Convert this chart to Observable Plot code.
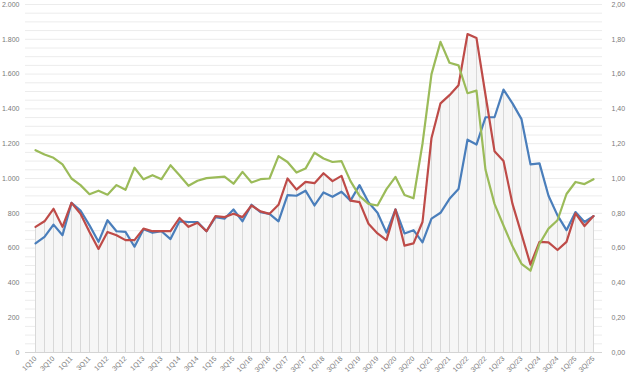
<!DOCTYPE html>
<html><head><meta charset="utf-8">
<script src="https://cdn.jsdelivr.net/npm/d3@7"></script>
<script src="https://cdn.jsdelivr.net/npm/@observablehq/plot@0.6"></script>
<style>
html,body{margin:0;padding:0;background:#fff}
#chart svg{display:block;overflow:visible}
</style>
</head><body><div id="chart"></div>
<script>
const quarters = [
  "1Q10","2Q10","3Q10","4Q10","1Q11","2Q11","3Q11","4Q11","1Q12","2Q12","3Q12","4Q12",
  "1Q13","2Q13","3Q13","4Q13","1Q14","2Q14","3Q14","4Q14","1Q15","2Q15","3Q15","4Q15",
  "1Q/16","2Q/16","3Q/16","4Q/16","1Q/17","2Q/17","3Q/17","4Q/17","1Q/18","2Q/18","3Q/18","4Q/18",
  "1Q/19","2Q/19","3Q/19","4Q/19","1Q/20","2Q/20","3Q/20","4Q/20","1Q/21","2Q/21","3Q/21","4Q/21",
  "1Q/22","2Q/22","3Q/22","4Q/22","1Q/23","2Q/23","3Q/23","4Q/23","1Q/24","2Q/24","3Q/24","4Q/24",
  "1Q/25","2Q/25","3Q/25"
];
const blueSeries = [
  627,665,735,674,860,816,731,636,760,697,693,608,
  708,688,697,652,754,750,750,697,778,769,822,754,
  849,807,797,754,905,901,930,845,920,895,924,873,
  962,864,803,689,822,684,703,633,769,803,883,939,
  1223,1195,1352,1352,1511,1432,1341,1081,1087,901,788,703,
  807,750,784
];
const redSeries = [
  722,754,826,722,860,797,693,595,693,674,646,646,
  712,697,697,697,773,722,746,697,784,778,797,778,
  845,811,797,849,1000,936,981,973,1030,985,1015,873,
  864,740,684,646,822,614,627,750,1233,1432,1479,1536,
  1830,1807,1480,1157,1100,854,680,505,636,633,589,636,
  800,727,784
];
const greenSeries = [
  1163,1138,1119,1081,1000,962,910,930,907,962,935,1062,
  995,1019,996,1076,1019,958,987,1002,1006,1011,970,1038,
  977,996,1000,1129,1095,1034,1057,1148,1115,1095,1100,985,
  900,854,845,939,1009,905,886,1200,1600,1785,1665,1650,
  1490,1505,1050,854,730,610,510,470,625,712,760,911,
  980,968,996
];
const leftTicks = [0,200,400,600,800,1000,1200,1400,1600,1800,2000];
const gridValues = d3.range(0, 2001, 50);
const xTickLabels = quarters.filter((d, i) => i % 2 === 0);

const loc = d3.formatLocale({decimal: ",", thousands: ".", grouping: [3], currency: ["", "€"]});
const fmtLeft = loc.format(",.0f");
const fmtRight = d => loc.format(",.2f")(d / 1000);

const rows = quarters.map((q, i) => ({q, blue: blueSeries[i], red: redSeries[i], green: greenSeries[i]}));
const topPrimary = d => Math.max(d.blue, d.red);

const chart = Plot.plot({
  width: 627,
  height: 376,
  marginLeft: 25,
  marginRight: 25,
  marginTop: 4,
  marginBottom: 24,
  x: {type: "point", domain: quarters, padding: 0.5, label: null},
  y: {domain: [0, 2000], label: null},
  style: {fontFamily: "Liberation Sans, Arial, sans-serif", fontSize: "7px", color: "#7a7a7a", background: "#fff"},
  marks: [
    Plot.ruleY(gridValues, {stroke: "#ececec", strokeWidth: 1}),
    Plot.areaY(rows, {x: "q", y: topPrimary, fill: "#f6f6f6"}),
    Plot.ruleX(rows, {x: "q", y1: 0, y2: topPrimary, stroke: "#d8d8d8", strokeWidth: 1}),
    Plot.ruleY([0], {stroke: "#d4d4d4"}),
    Plot.lineY(rows, {x: "q", y: "blue", stroke: "#4a7ebb", strokeWidth: 2.2}),
    Plot.lineY(rows, {x: "q", y: "red", stroke: "#be4b48", strokeWidth: 2.2}),
    Plot.lineY(rows, {x: "q", y: "green", stroke: "#9bbb59", strokeWidth: 2.2}),
    Plot.axisY(leftTicks, {anchor: "left", tickSize: 0, tickPadding: 6, tickFormat: fmtLeft}),
    Plot.axisY(leftTicks, {anchor: "right", tickSize: 0, tickPadding: 9, tickFormat: fmtRight}),
    Plot.axisX(xTickLabels, {anchor: "bottom", tickSize: 0, tickPadding: 5, tickRotate: -45})
  ]
});
document.getElementById("chart").appendChild(chart);
</script>
</body></html>
